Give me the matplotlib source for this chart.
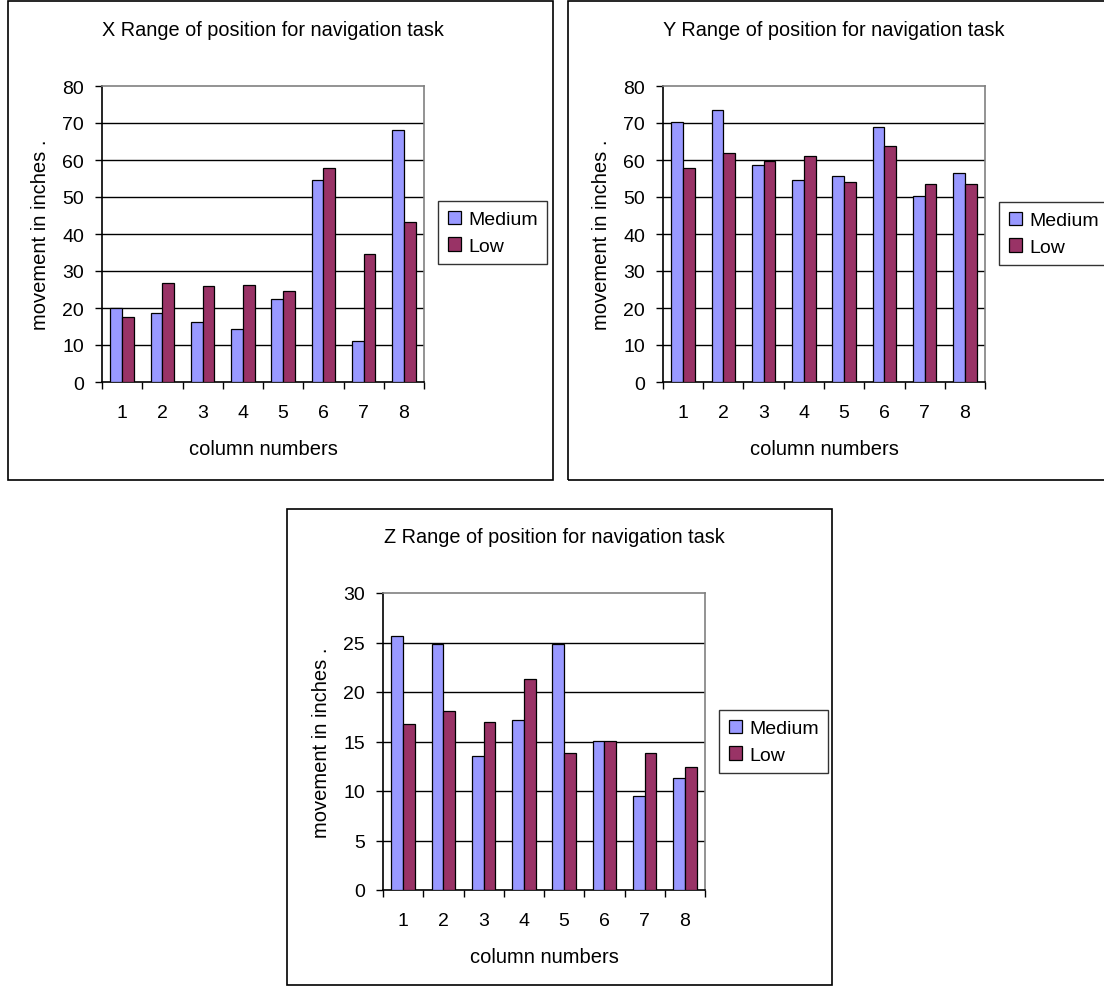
import matplotlib
matplotlib.use("Agg")
import matplotlib.pyplot as plt
import numpy as np
from matplotlib.patches import Rectangle

plt.rcParams['font.family'] = ['Liberation Sans', 'DejaVu Sans']

# ---- data ----
columns = ["1", "2", "3", "4", "5", "6", "7", "8"]
series_names = ["Medium", "Low"]

x_medium = [20.0, 18.7, 16.1, 14.4, 22.4, 54.6, 11.1, 68.0]
x_low = [17.7, 26.8, 26.0, 26.3, 24.7, 57.8, 34.7, 43.3]

y_medium = [70.3, 73.5, 58.6, 54.7, 55.8, 68.8, 50.4, 56.5]
y_low = [57.9, 61.9, 59.7, 61.2, 54.0, 63.7, 53.6, 53.6]

z_medium = [25.65, 24.85, 13.5, 17.15, 24.85, 15.1, 9.45, 11.3]
z_low = [16.75, 18.1, 17.0, 21.35, 13.8, 15.1, 13.8, 12.4]

titles = ["X Range of position for navigation task",
          "Y Range of position for navigation task",
          "Z Range of position for navigation task"]
y_limits = [80, 80, 30]
y_steps = [10, 10, 5]
y_label = "movement in inches ."
x_label = "column numbers"

colors = ["#9999FF", "#993366"]

W, H = 1104, 987
fig = plt.figure(figsize=(W / 100, H / 100), dpi=100)


def fx(px):
    return px / W


def fy(py):
    return 1 - py / H


def add_frame(x0, y0, x1, y1):
    fig.patches.append(Rectangle((fx(x0), fy(y1)), fx(x1) - fx(x0), fy(y0) - fy(y1),
                                 transform=fig.transFigure, fill=False,
                                 edgecolor="black", linewidth=1.2, zorder=0))


def panel(ax_box, frame, title_y, legend_xy, medium, low, ymax, ystep, title):
    x0, y0, x1, y1 = ax_box
    add_frame(*frame)
    ax = fig.add_axes([fx(x0), fy(y1), fx(x1) - fx(x0), fy(y0) - fy(y1)])
    idx = np.arange(len(columns))
    bw = 0.29
    ax.bar(idx - bw / 2, medium, bw, color=colors[0], edgecolor="black",
           linewidth=0.9, label=series_names[0], zorder=3)
    ax.bar(idx + bw / 2, low, bw, color=colors[1], edgecolor="black",
           linewidth=0.9, label=series_names[1], zorder=3)
    ax.set_xlim(-0.5, len(columns) - 0.5)
    ax.set_ylim(0, ymax)
    yt = np.arange(0, ymax + ystep, ystep)
    ax.set_yticks(yt)
    ax.set_yticklabels([str(int(v)) for v in yt], fontsize=14)
    for v in yt[1:-1]:
        ax.axhline(v, color="black", linewidth=1.0, zorder=1)
    ax.set_xticks(idx)
    ax.set_xticklabels(columns, fontsize=14)
    ax.set_xticks(np.arange(-0.5, len(columns)), minor=True)
    ax.tick_params(axis="x", which="major", length=0, pad=16)
    ax.tick_params(axis="x", which="minor", length=5, width=1.0, direction="out")
    ax.tick_params(axis="y", which="major", length=5, width=1.0, direction="out", pad=8)
    for side in ["left", "bottom"]:
        ax.spines[side].set_color("black")
        ax.spines[side].set_linewidth(1.2)
    for side in ["top", "right"]:
        ax.spines[side].set_color("#808080")
        ax.spines[side].set_linewidth(1.2)
    ax.set_xlabel(x_label, fontsize=14.5, labelpad=13)
    ax.set_ylabel(y_label, fontsize=14.5, labelpad=9)
    fig.text(fx((x0 + x1) / 2 + 10), fy(title_y), title, fontsize=14.3,
             ha="center", va="center")
    leg = ax.legend(loc="upper left", bbox_to_anchor=(fx(legend_xy[0]), fy(legend_xy[1])),
                    bbox_transform=fig.transFigure, borderaxespad=0, fontsize=14,
                    frameon=True, fancybox=False, edgecolor="black",
                    handlelength=0.7, handleheight=0.7, handletextpad=0.35,
                    borderpad=0.5, labelspacing=0.45)
    leg.get_frame().set_linewidth(1.0)
    return ax


panel((102, 87, 424, 383), (8, 2, 553, 481), 30, (438, 202),
      x_medium, x_low, y_limits[0], y_steps[0], titles[0])
panel((663, 87, 985, 383), (568, 2, 1112, 481), 30, (999, 203),
      y_medium, y_low, y_limits[1], y_steps[1], titles[1])
panel((383, 594, 705, 891), (287, 510, 832, 986), 538, (719, 711),
      z_medium, z_low, y_limits[2], y_steps[2], titles[2])

fig.savefig("out.png", dpi=100)
